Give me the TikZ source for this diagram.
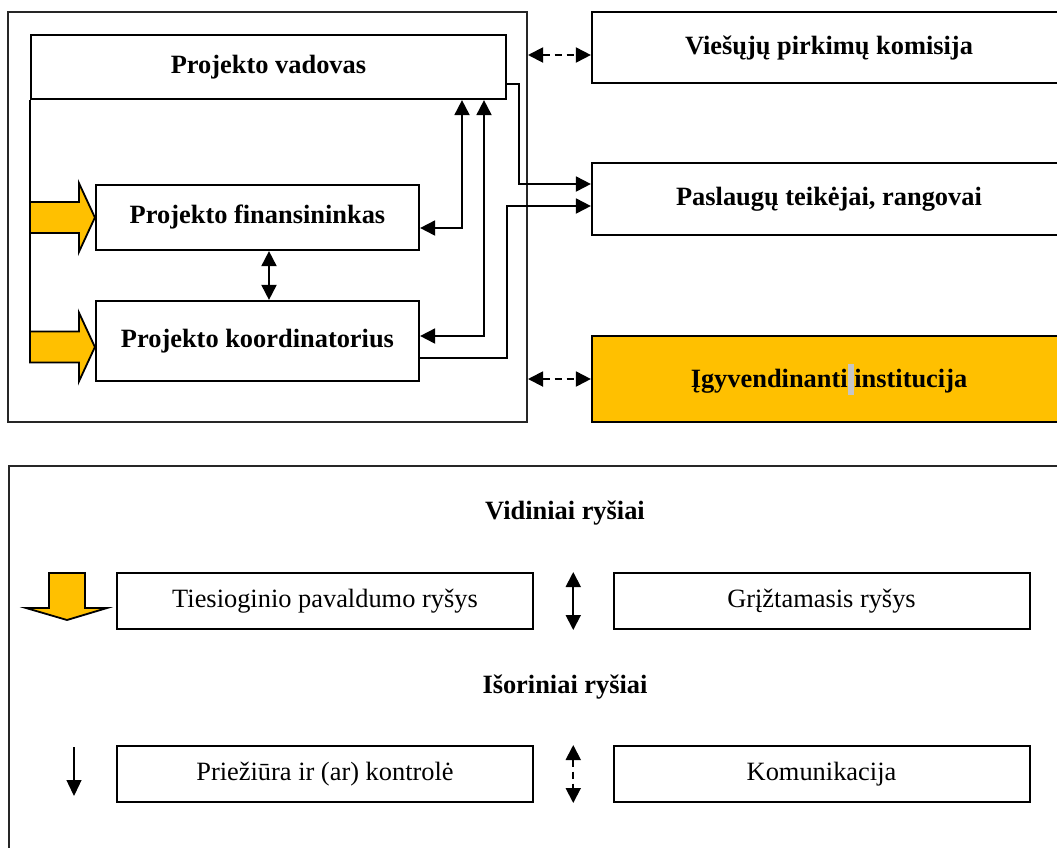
\documentclass[tikz,border=0pt]{standalone}
\usepackage{fontspec}
\setmainfont{Liberation Serif}
\usetikzlibrary{arrows.meta,calc}
\definecolor{gold}{HTML}{FFC000}
\newcommand\boxfont{\fontsize{26.4pt}{30pt}\selectfont}

\begin{document}
\begin{tikzpicture}[x=1pt, y=-1pt,
  frame/.style={draw=black!85, line width=2pt, inner sep=0pt},
  box/.style={draw, line width=2.2pt, inner sep=0pt, font=\boxfont\bfseries},
  keybox/.style={draw, line width=2pt, inner sep=0pt, minimum width=416pt, minimum height=56pt, font=\boxfont},
  head/.style={inner sep=0pt, font=\boxfont\bfseries},
  link/.style={line width=1.9pt},
  onehead/.style={-{Triangle[length=15pt,width=15pt]}},
  twoheads/.style={{Triangle[length=15pt,width=15pt]}-{Triangle[length=15pt,width=15pt]}},
  talk/.style={twoheads, dash pattern=on 7pt off 5pt},
  block/.style={draw, fill=gold, line width=1.8pt, line join=miter}]
\useasboundingbox (0,0) rectangle (1057,847);
\clip (0,0) rectangle (1057,847);

\node[frame, minimum width=519pt, minimum height=410pt] (team) at (267.5,217) {};
\node[box, minimum width=475pt, minimum height=64pt] (vad) at (268.5,67) {Projekto vadovas};
\node[box, minimum width=323pt, minimum height=65pt] (fin) at (257.5,217.5) {Projekto finansininkas};
\node[box, minimum width=323pt, minimum height=80pt] (koord) at (257.5,341) {Projekto koordinatorius};
\node[box, minimum width=474pt, minimum height=71pt] (vpk) at (829,47.5) {Viešųjų pirkimų komisija};
\node[box, minimum width=474pt, minimum height=72pt] (pasl) at (829,199) {Paslaugų teikėjai, rangovai};
\node[box, fill=gold, minimum width=474pt, minimum height=86pt] (ii) at (829,379)
  {Įgyvendinanti{\color{gray!45}\rule[-7pt]{6.6pt}{31pt}}institucija};

\draw[block] (fin.west) -- ++(-16,-34.5) -- ++(0,19) -- ++(-49,0) -- ++(0,31) -- ++(49,0) -- ++(0,19) -- cycle;
\draw[block] ($(koord.west)+(0,6)$) -- ++(-16,-34.5) -- ++(0,19) -- ++(-49,0) -- ++(0,31) -- ++(49,0) -- ++(0,19) -- cycle;
\draw[link, line width=2.2pt] (vad.south west) -- (vad.south west |- 0,363);

\coordinate (fb) at (462,228);
\coordinate (kb) at (484,336);
\coordinate (mid) at (269,0);
\coordinate (v1) at (519,84);
\coordinate (v2) at (519,184);
\coordinate (k1) at (507,358);
\coordinate (k2) at (507,206);
\draw[link, twoheads] (fin.east |- fb) -| (vad.south -| fb);
\draw[link, twoheads] (koord.east |- kb) -| (vad.south -| kb);
\draw[link, twoheads] (fin.south -| mid) -- (koord.north -| mid);
\draw[link, onehead] (vad.east |- v1) -- (v1) -- (v2) -- (pasl.west |- v2);
\draw[link, onehead] (koord.east |- k1) -- (k1) -- (k2) -- (pasl.west |- k2);
\draw[link, talk] (team.east |- 0,55) -- (vpk.west |- 0,55);
\draw[link, talk] (team.east |- ii.west) -- (ii.west);

\node[frame, minimum width=1057pt, minimum height=400pt] (legend) at (537.5,666) {};
\node[head] (vid) at (565,513) {Vidiniai ryšiai};
\node[head] (isor) at (565,687) {Išoriniai ryšiai};
\node[keybox] (tpr) at (325,601) {Tiesioginio pavaldumo ryšys};
\node[keybox] (gr) at (821.5,601) {Grįžtamasis ryšys};
\node[keybox] (pr) at (325,774) {Priežiūra ir (ar) kontrolė};
\node[keybox] (kom) at (821.5,774) {Komunikacija};

\coordinate (sub) at (67,620);
\draw[block] (sub) -- ++(-41,-12) -- ++(23,0) -- ++(0,-35) -- ++(36,0) -- ++(0,35) -- ++(22,0) -- cycle;
\coordinate (ctl) at (74,747);
\draw[line width=1.3pt, -{Triangle[length=16pt,width=15pt]}] (ctl) -- ++(0,49);
\draw[link, twoheads] ($(tpr.north east)!0.5!(gr.north west)$) -- ($(tpr.south east)!0.5!(gr.south west)$);
\draw[link, talk] ($(pr.north east)!0.5!(kom.north west)$) -- ($(pr.south east)!0.5!(kom.south west)$);
\end{tikzpicture}
\end{document}
